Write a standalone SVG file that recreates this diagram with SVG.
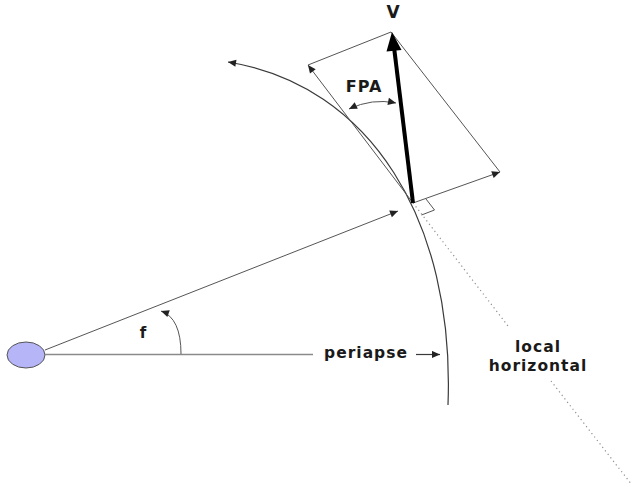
<svg xmlns="http://www.w3.org/2000/svg" width="632" height="487" viewBox="0 0 632 487">
<defs>
<style>
.ln{fill:none;stroke:#3a3a3a;stroke-width:1.2}
.lt{fill:none;stroke:#555;stroke-width:1}
.gray{fill:none;stroke:#8a8a8a;stroke-width:1.4}
.dot{fill:none;stroke:#8f8f8f;stroke-width:1.2;stroke-dasharray:1.2 3.2}
.lbl{font-family:"DejaVu Sans",Verdana,sans-serif;font-weight:bold;fill:#1a1a1a;letter-spacing:1px}
</style>
<marker id="ah" viewBox="0 0 10 10" refX="10" refY="5" markerWidth="9" markerHeight="8" markerUnits="userSpaceOnUse" orient="auto-start-reverse">
<path d="M0,0.5 L10,5 L0,9.5 z" fill="#222"/>
</marker>
</defs>
<rect width="632" height="487" fill="#fff"/>
<g id="planet">
<ellipse cx="26" cy="355" rx="19" ry="13" fill="#b5b5f7" stroke="#555" stroke-width="1"/>
</g>
<g id="connectors">
<line class="gray" x1="45" y1="354.5" x2="313" y2="354.5"/>
<line class="ln" x1="416" y1="354.5" x2="440" y2="354.5" marker-end="url(#ah)"/>
<line class="lt" x1="45" y1="350" x2="398" y2="211" marker-end="url(#ah)"/>
<path class="ln" d="M228,62 C370,85 455,220 448,405" marker-start="url(#ah)"/>
<line class="lt" x1="413" y1="203" x2="308" y2="65" marker-end="url(#ah)"/>
<line class="lt" x1="413" y1="203" x2="500" y2="172" marker-end="url(#ah)"/>
<line class="lt" x1="308" y1="65" x2="391" y2="32"/>
<line class="lt" x1="391" y1="32" x2="500" y2="172"/>
<polyline class="lt" points="426,199 434.5,210 421.5,215"/>
<line class="dot" x1="413" y1="203" x2="508" y2="326"/>
<line class="dot" x1="551" y1="381" x2="632" y2="485"/>
<path class="lt" d="M349,109 Q372,98 396,103" marker-start="url(#ah)" marker-end="url(#ah)"/>
<path class="lt" d="M181,354 Q181,318 161,311" marker-end="url(#ah)"/>
</g>
<g id="velocity">
<line x1="394" y1="47" x2="413" y2="203" stroke="#000" stroke-width="4"/>
<polygon points="392,32 401.5,50 386.5,51.5" fill="#000"/>
</g>
<g id="labels">
<text class="lbl" x="393" y="18" font-size="17" text-anchor="middle" style="letter-spacing:0">V</text>
<text class="lbl" x="364" y="92" font-size="16" text-anchor="middle">FPA</text>
<text class="lbl" x="143" y="338" font-size="15" text-anchor="middle" style="letter-spacing:0">f</text>
<text class="lbl" x="366" y="358" font-size="15.5" text-anchor="middle">periapse</text>
<text class="lbl" x="538" y="352" font-size="15.5" text-anchor="middle">local</text>
<text class="lbl" x="538" y="371" font-size="15.5" text-anchor="middle">horizontal</text>
</g>
</svg>
